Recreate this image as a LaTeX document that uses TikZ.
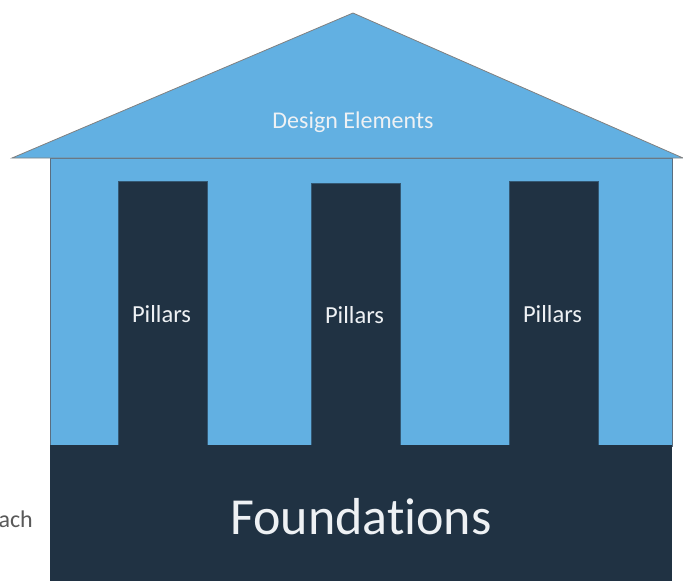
\documentclass[tikz,border=0pt]{standalone}
\usepackage{fontspec}
\setmainfont{Carlito}[Ligatures={NoCommon,NoRare}]
\definecolor{skyblue}{HTML}{62B0E2}
\definecolor{navy}{HTML}{203243}
\definecolor{edgegray}{HTML}{5A6E80}
\definecolor{softwhite}{HTML}{EEF1F4}
\definecolor{sidegray}{HTML}{595959}
\begin{document}
\begin{tikzpicture}[x=1pt,y=-1pt,
  wall/.style={fill=skyblue,draw=edgegray,line width=0.8pt},
  pillar/.style={fill=navy,draw=navy!70!skyblue,line width=0.8pt},
  pillarlabel/.style={text=softwhite,font=\fontsize{24.5}{24.5}\selectfont},
  roof/.style={fill=skyblue,draw=gray,line width=0.8pt,line join=miter}]
  \useasboundingbox (0,0) rectangle (683,581);
  % roof and wall
  \fill[wall] (50,158) rectangle (672,446);
  \draw[roof] (12,158) -- (353,13) -- (683,158) -- cycle;
  \node[text=softwhite,font=\fontsize{24}{24}\selectfont] (design) at (353,122) {Design Elements};
  % pillars
  \node[pillar,minimum width=89pt,minimum height=264pt,inner sep=0pt] (p1) at (162.5,313.5) {};
  \node[pillar,minimum width=89pt,minimum height=262pt,inner sep=0pt] (p2) at (355.5,314.5) {};
  \node[pillar,minimum width=89pt,minimum height=264pt,inner sep=0pt] (p3) at (553.5,313.5) {};
  \node[pillarlabel] (l1) at (161.5,314) {Pillars};
  \node[pillarlabel] (l2) at (354.5,315) {Pillars};
  \node[pillarlabel] (l3) at (552.5,314) {Pillars};
  % foundation
  \fill[navy] (50,445) rectangle (672,581);
  \node[text=softwhite,font=\fontsize{52}{52}\selectfont] (found) at (361,517) {Foundations};
  % partial side text
  \node[anchor=east,text=sidegray,font=\fontsize{24}{24}\selectfont,inner sep=0pt] (side) at (33,519) {ach};
\end{tikzpicture}
\end{document}
